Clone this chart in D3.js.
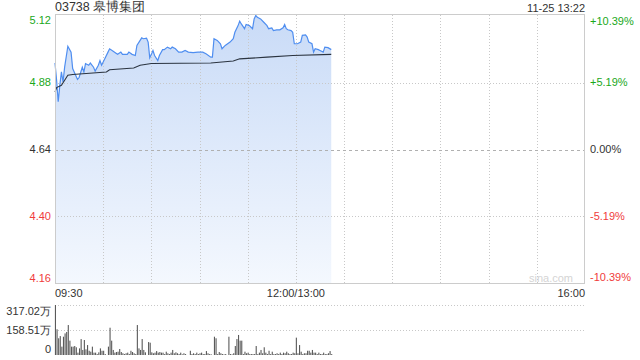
<!DOCTYPE html>
<html>
<head>
<meta charset="utf-8">
<title>03738 皋博集团</title>
<script src="https://d3js.org/d3.v7.min.js"></script>
<style>
  body { margin: 0; background: #fff; }
  svg text { font-family: "Liberation Sans", Arial, sans-serif; }
</style>
</head>
<body>
<svg id="chart" width="640" height="360"></svg>
<script>
// ---- data ----
const stockName = "03738 皋博集团";
const stamp = "11-25 13:22";
const prevClose = 4.64;
const limitPct = 0.1039;

const priceTicks = [5.12, 4.88, 4.64, 4.40, 4.16];
const pctTicks = ["+10.39%", "+5.19%", "0.00%", "-5.19%", "-10.39%"];
const timeLabels = ["09:30", "12:00/13:00", "16:00"];
const volTicks = ["0", "158.51万", "317.02万"];
const volMax = 317.02;

// minutes since 09:30 (lunch break removed, 13:00 = 150)
const priceMinutes = [0,1,2,3,4,5,6,8,10,11,14,15,17,18,19,21,22,24,25,27,28,29,31,33,34,36,38,39,41,42,
  45,46,48,50,51,53,54,55,57,58,59,60,61,62,64,65,67,68,70,72,73,75,77,79,81,83,86,89,92,94,
  97,98,99,101,103,104,106,109,111,112,114,115,116,118,119,121,123,124,125,126,128,130,132,133,135,136,138,140,142,143,
  144,145,147,148,149,151,153,154,156,157,158,160,161,162,164,165,167,168,170,172];
const prices = [4.950,4.888,4.811,4.870,4.918,4.882,4.935,5.010,4.989,4.930,4.891,4.898,4.935,4.918,4.948,4.942,4.950,4.935,4.921,4.942,4.959,4.942,4.965,4.989,5.001,4.993,4.985,4.981,4.989,4.981,
  4.981,4.989,4.981,4.977,5.013,5.031,5.040,5.037,5.039,5.025,4.969,4.981,4.995,4.977,4.959,4.977,4.998,4.998,5.007,5.001,5.007,5.001,4.989,4.989,4.995,4.989,4.987,4.989,4.989,4.983,
  4.971,4.971,5.037,5.031,5.019,5.001,5.013,5.025,5.037,5.060,5.084,5.100,5.090,5.073,5.088,5.084,5.073,5.108,5.120,5.114,5.108,5.096,5.084,5.073,5.076,5.066,5.069,5.069,5.076,5.088,
  5.073,5.069,5.066,5.060,5.019,5.019,5.025,5.049,5.051,5.043,5.025,5.019,4.989,5.001,4.998,4.995,4.989,5.007,5.005,4.998];

const avgMinutes = [0,1,4,6,8,11,32,34,49,53,60,97,111,115,132,148,172];
const avgPrices = [4.846,4.862,4.870,4.888,4.906,4.909,4.918,4.926,4.932,4.942,4.948,4.950,4.957,4.965,4.971,4.977,4.981];

// volume per minute, in 万
const volumes = [317,163,106,120,53,116,137,146,190,91,53,53,57,49,15,42,101,32,95,36,
  63,27,21,53,15,15,6,17,42,27,27,6,0,53,173,91,32,15,19,21,
  38,19,11,6,11,15,6,27,19,11,6,190,42,32,101,32,17,0,82,78,
  17,11,15,25,15,19,15,15,6,21,11,6,15,32,11,17,11,6,15,4,
  11,6,0,0,27,6,11,6,15,6,11,15,6,6,25,11,6,4,0,116,
  106,6,19,11,6,4,6,0,116,6,4,11,57,101,127,91,91,6,21,11,
  15,6,6,6,6,57,6,15,32,11,49,15,6,27,6,21,6,6,11,6,
  15,6,15,11,21,11,6,6,15,11,110,11,63,21,6,11,11,27,27,15,
  32,15,15,6,15,6,6,15,6,6,11,25,6];

// ---- layout ----
const L = 55, R = 585, T = 15, B = 284;
const VT = 305, VB = 355;

const svg = d3.select("#chart");

const x = d3.scaleLinear().domain([0, 330]).range([L, R]);
const y = d3.scaleLinear()
  .domain([prevClose * (1 - limitPct), prevClose * (1 + limitPct)])
  .range([B, T]);
const yv = d3.scaleLinear().domain([0, volMax]).range([VB, VT]);

const green = "#1aa81a", red = "#f03c3c", dark = "#333";
const tickColor = (p) => p > prevClose + 0.001 ? green : (p < prevClose - 0.001 ? red : dark);

// gradient for the area
const defs = svg.append("defs");
const grad = defs.append("linearGradient").attr("id", "fillGrad")
  .attr("x1", 0).attr("y1", 0).attr("x2", 0).attr("y2", 1);
grad.append("stop").attr("offset", "0%").attr("stop-color", "#c9dbf7");
grad.append("stop").attr("offset", "100%").attr("stop-color", "#f4f8fe");

// price area first, grid drawn over it
const pts = priceMinutes.map((m, i) => [m, prices[i]]);
const area = d3.area().x(d => x(d[0])).y0(B).y1(d => y(d[1]));
const line = d3.line().x(d => x(d[0])).y(d => y(d[1]));

svg.append("path").datum(pts).attr("d", area).attr("fill", "url(#fillGrad)");

// vertical grid every 30 minutes
const vGrid = d3.range(30, 330, 30);
svg.append("g").selectAll("line").data(vGrid).join("line")
  .attr("x1", d => Math.round(x(d)) + 0.5).attr("x2", d => Math.round(x(d)) + 0.5)
  .attr("y1", T).attr("y2", B)
  .attr("stroke", "#c8c8c8").attr("stroke-dasharray", "1,2");

// horizontal grid
svg.append("g").selectAll("line").data(priceTicks.slice(1, 4)).join("line")
  .attr("x1", L).attr("x2", R)
  .attr("y1", d => Math.round(y(d)) + 0.5).attr("y2", d => Math.round(y(d)) + 0.5)
  .attr("stroke", d => d === prevClose ? "#b0b0b0" : "#c8c8c8")
  .attr("stroke-dasharray", d => d === prevClose ? "3,3" : "1,2");

svg.append("path").datum(pts).attr("d", line)
  .attr("fill", "none").attr("stroke", "#4f8ef0").attr("stroke-width", 1.2);

const avgPts = avgMinutes.map((m, i) => [m, avgPrices[i]]);
svg.append("path").datum(avgPts).attr("d", line)
  .attr("fill", "none").attr("stroke", "#2b3440").attr("stroke-width", 1.1);

// frame
svg.append("rect").attr("x", L + 0.5).attr("y", T - 0.5)
  .attr("width", R - L - 1).attr("height", B - T)
  .attr("fill", "none").attr("stroke", "#cccccc");

// price labels left
svg.append("g").selectAll("text").data(priceTicks).join("text")
  .attr("x", L - 4)
  .attr("y", (d, i) => i === 0 ? y(d) + 5 : (i === priceTicks.length - 1 ? y(d) - 5 : y(d)))
  .attr("dy", "0.35em").attr("text-anchor", "end")
  .attr("font-size", 11).attr("fill", tickColor)
  .text(d => d.toFixed(2));

// pct labels right
svg.append("g").selectAll("text").data(pctTicks).join("text")
  .attr("x", R + 5)
  .attr("y", (d, i) => {
    const v = y(priceTicks[i]);
    return i === 0 ? v + 6 : (i === pctTicks.length - 1 ? v - 6 : v);
  })
  .attr("dy", "0.35em").attr("text-anchor", "start")
  .attr("font-size", 11).attr("fill", (d, i) => tickColor(priceTicks[i]))
  .text(d => d);

// title + timestamp
svg.append("text").attr("x", L).attr("y", 11).attr("font-size", 12.5).attr("fill", dark).text(stockName);
svg.append("text").attr("x", R).attr("y", 12).attr("text-anchor", "end").attr("font-size", 11).attr("fill", dark).text(stamp);

// watermark
svg.append("text").attr("x", 573).attr("y", 282).attr("text-anchor", "end")
  .attr("font-size", 11).attr("fill", "#d4d4d4").text("sina.com");

// time labels
const timeMinutes = [0, 150, 330];
const anchors = ["start", "middle", "end"];
svg.append("g").selectAll("text").data(timeLabels).join("text")
  .attr("x", (d, i) => x(timeMinutes[i]))
  .attr("y", 297).attr("text-anchor", (d, i) => anchors[i])
  .attr("font-size", 11).attr("fill", dark)
  .text(d => d);

// volume panel
svg.append("g").selectAll("line").data([volMax, volMax / 2]).join("line")
  .attr("x1", L).attr("x2", R)
  .attr("y1", d => Math.round(yv(d)) + 0.5).attr("y2", d => Math.round(yv(d)) + 0.5)
  .attr("stroke", "#c8c8c8").attr("stroke-dasharray", "1,2");
svg.append("line").attr("x1", L + 0.5).attr("x2", L + 0.5).attr("y1", VT).attr("y2", VB)
  .attr("stroke", "#cccccc");

svg.append("g").selectAll("rect").data(volumes).join("rect")
  .attr("x", (d, i) => x(i) - 0.1)
  .attr("width", 1.1)
  .attr("y", d => yv(d))
  .attr("height", d => VB - yv(d))
  .attr("fill", "#5a5a5a");

const volTickVals = [0, volMax / 2, volMax];
svg.append("g").selectAll("text").data(volTicks).join("text")
  .attr("x", L - 4)
  .attr("y", (d, i) => i === 0 ? yv(volTickVals[i]) - 6 : (i === 2 ? yv(volTickVals[i]) + 6 : yv(volTickVals[i])))
  .attr("dy", "0.35em").attr("text-anchor", "end")
  .attr("font-size", 11).attr("fill", dark)
  .text(d => d);
</script>
</body>
</html>
